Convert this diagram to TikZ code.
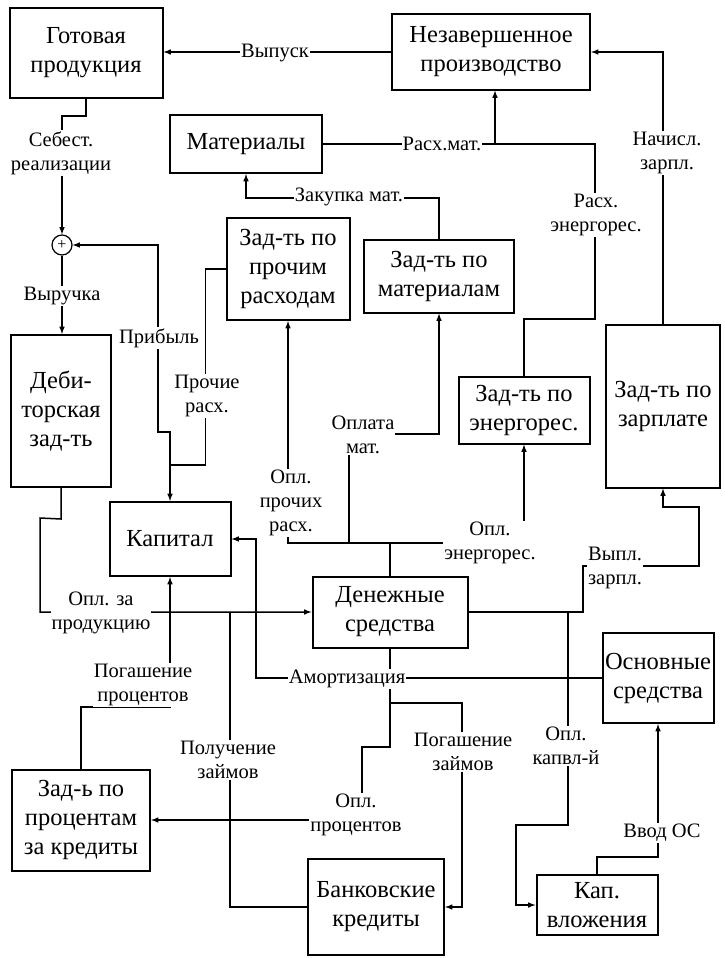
\documentclass[tikz,border=0pt]{standalone}
\usepackage{fontspec}
\setmainfont{Liberation Serif}
\usepackage{tikz}
\usetikzlibrary{positioning}
\tikzset{%
  account/.style={
    draw,
    line width=2pt,
    align=center,
    inner sep=0pt,
    font=\fontsize{24.5}{29}\selectfont
  },
  flow label/.style={
    fill=white,
    align=center,
    inner sep=1pt,
    font=\fontsize{20.5}{24}\selectfont
  },
}
\begin{document}
\begin{tikzpicture}[x=1pt,y=-1pt,>=latex,line width=1.5pt]
        \useasboundingbox (0,0) rectangle (724,958);

        \node[account,minimum width=153pt,minimum height=90pt] (gotovaya) at (86,53) {Готовая\\продукция};
        \node[account,minimum width=198pt,minimum height=75pt] (nezav) at (491,52) {Незавершенное\\производство};
        \node[account,minimum width=152pt,minimum height=58pt] (materialy) at (246,144) {Материалы};
        \node[account,minimum width=123pt,minimum height=102pt] (zprochie) at (288,269) {Зад-ть по\\прочим\\расходам};
        \node[account,minimum width=150pt,minimum height=73pt] (zmat) at (439,276) {Зад-ть по\\материалам};
        \node[account,minimum width=131pt,minimum height=67pt] (zenerg) at (524,410) {Зад-ть по\\энергорес.};
        \node[account,minimum width=114pt,minimum height=163pt] (zzarpl) at (663,406) {Зад-ть по\\зарплате};
        \node[account,minimum width=100pt,minimum height=152pt] (debitor) at (61,411) {Деби-\\торская\\зад-ть};
        \node[account,minimum width=121pt,minimum height=74pt] (kapital) at (170,539) {Капитал};
        \node[account,minimum width=155pt,minimum height=71pt] (dengi) at (390,612) {Денежные\\средства};
        \node[account,minimum width=111pt,minimum height=90pt] (osnovnye) at (658,678) {Основные\\средства};
        \node[account,minimum width=138pt,minimum height=101pt] (zproc) at (81,820) {Зад-ь по\\процентам\\за кредиты};
        \node[account,minimum width=136pt,minimum height=96pt] (bank) at (376,907) {Банковские\\кредиты};
        \node[account,minimum width=121pt,minimum height=60pt] (kapvl) at (597,905) {Кап.\\вложения};
        \node[circle,draw,line width=1.2pt,minimum size=20pt,inner sep=0pt,font=\fontsize{16}{16}\selectfont] (plus) at (62,245) {+};

        \coordinate (jkap) at (170,465);
        \coordinate (jprib) at (170,432);
        \coordinate (jnezav) at (495,144);
        \coordinate (jdengi) at (390,543);
        \coordinate (jopmat) at (349,543);
        \coordinate (jzarpl) at (583,612);
        \coordinate (jkapvl) at (568,612);
        \coordinate (jzaym) at (390,703);

        \draw[->] (nezav.west) -- (nezav.west -| gotovaya.east);
        \draw[->] (gotovaya.south) -- ++(0,17) -| (plus.north);
        \draw[->] (plus.south) -- (plus.south |- debitor.north);
        \draw[->] (jkap) -- (kapital.north);
        \draw[->] (jkap) -- (jprib) -- ++(-12,0) |- (plus.east);
        \draw (zprochie.west) -- ++(-20,0) |- (jkap);
        \draw[->] (zmat.north) -- (439,198) -| (materialy.south);
        \draw[->] (materialy.east) -- (jnezav) -- (jnezav |- nezav.south);
        \draw (zenerg.north) |- (595,319) |- (jnezav);
        \draw[->] (zzarpl.north) |- (nezav.east);
        \draw (dengi.north) -- (jdengi);
        \draw[->] (jdengi) -| (zprochie.south);
        \draw[->] (jopmat) -- (349,434) -| (zmat.south);
        \draw[->] (jdengi) -| (zenerg.south);
        \draw[->] (dengi.east) -- (jzarpl) -- (583,566) -- (699,566) |- (663,507) -- (zzarpl.south);
        \draw[->] (jkapvl) -- (568,825) -- (516,825) |- (kapvl.west);
        \draw[->] (osnovnye.west) -- (256,678) |- (kapital.east);
        \draw[->] (debitor.south) -- ++(0,31) -- (40,518) |- (dengi.west);
        \draw[->] (zproc.north) -- (81,707) -| (kapital.south);
        \draw (bank.west) -| (230,612);
        \draw[->] (dengi.south) -- (390,747) -- (362,747) |- (zproc.east);
        \draw[->] (jzaym) -- (462,703) |- (bank.east);
        \draw[->] (kapvl.north) -- (597,857) -| (osnovnye.south);

        \node[flow label] (lvypusk) at (275,53) {Выпуск};
        \node[flow label] (lsebest) at (61,153) {Себест.\\реализации};
        \node[flow label] (lvyruchka) at (62,296) {Выручка};
        \node[flow label] (lpribyl) at (159,338) {Прибыль};
        \node[flow label] (lprochie) at (207,396) {Прочие\\расх.};
        \node[flow label] (lzakupka) at (349,197) {Закупка мат.};
        \node[flow label] (lrashmat) at (442,144) {Расх.мат.};
        \node[flow label] (lrashen) at (596,215) {Расх.\\энергорес.};
        \node[flow label] (lnachisl) at (667,153) {Начисл.\\зарпл.};
        \node[flow label] (loplpr) at (291,503) {Опл.\\прочих\\расх.};
        \node[flow label] (loplmat) at (363,435) {Оплата\\мат.};
        \node[flow label] (loplen) at (490,543) {Опл.\\энергорес.};
        \node[flow label] (lvypl) at (615,568) {Выпл.\\зарпл.};
        \node[flow label] (loplprod) at (101,613) {Опл. за\\продукцию};
        \node[flow label] (lpogproc) at (143,685) {Погашение\\процентов};
        \node[flow label] (lpoluch) at (228,760) {Получение\\займов};
        \node[flow label] (lamort) at (347,679) {Амортизация};
        \node[flow label] (loplproc) at (356,815) {Опл.\\процентов};
        \node[flow label] (lpogzaym) at (463,752) {Погашение\\займов};
        \node[flow label] (loplkap) at (566,746) {Опл.\\капвл-й};
        \node[flow label] (lvvod) at (662,833) {Ввод ОС};
    \end{tikzpicture}
\end{document}
